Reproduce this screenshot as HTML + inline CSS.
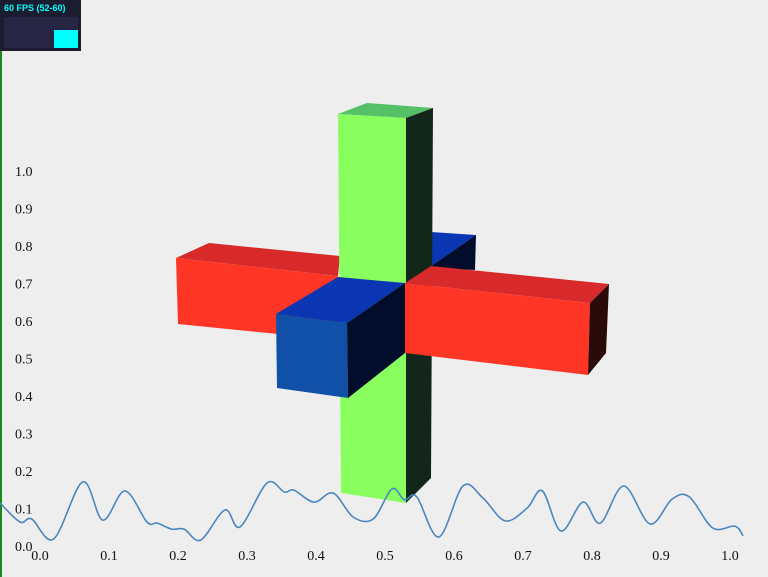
<!DOCTYPE html>
<html><head><meta charset="utf-8"><style>
body{margin:0;width:768px;height:577px;overflow:hidden;background:#eeeeee;font-family:"Liberation Serif",serif}
svg{position:absolute;left:0;top:0}
</style></head><body>
<svg width="768" height="577">
<rect x="0" y="0" width="2" height="577" fill="#1a8a1a"/>
<g id="ylab" font-size="14" fill="#111"></g>
<g id="xlab" font-size="14" fill="#111" text-anchor="middle"></g>
<g>
<polygon points="176,258 209,243 340,256 338,276" fill="#d8292b"/>
<polygon points="176,258 338,276 338,340 178,324" fill="#ff3526"/>
<polygon points="431,232 476,235 431,266" fill="#0a36b4"/>
<polygon points="431,266 476,235 475,270 431,268" fill="#020d2c"/>
<polygon points="338,114 367,103 433,108 406,118" fill="#55c066"/>
<polygon points="338,114 406,118 406,503 341,493" fill="#88ff5e"/>
<polygon points="406,118 433,108 431,478 406,503" fill="#13261a"/>
<polygon points="405,283 431,266 609,284 590,303" fill="#d8292b"/>
<polygon points="405,283 590,303 588,375 405,353" fill="#ff3526"/>
<polygon points="590,303 609,284 606,353 588,375" fill="#2a0b09"/>
<polygon points="276,314 338,277 405,283 347,323" fill="#0a36b4"/>
<polygon points="276,314 347,323 348,398 277,388" fill="#1150a8"/>
<polygon points="347,323 405,283 405,353 348,398" fill="#020d2c"/>
</g>
<path id="wave" fill="none" stroke="#4a86c0" stroke-width="1.6"/>
<g>
<rect x="0" y="0" width="81" height="51" fill="#1c1c30"/>
<rect x="4" y="17" width="74" height="31" fill="#262644"/>
<rect x="54" y="30" width="24" height="18" fill="#0ff"/>
<text x="4" y="11" font-family="Liberation Sans,sans-serif" font-weight="bold" font-size="9" fill="#0ff">60 FPS (52-60)</text>
</g>
</svg>
<script>
const yTicks=["0.0","0.1","0.2","0.3","0.4","0.5","0.6","0.7","0.8","0.9","1.0"];
const xTicks=["0.0","0.1","0.2","0.3","0.4","0.5","0.6","0.7","0.8","0.9","1.0"];
const waveX=[-0.058,-0.029,-0.012,0.020,0.062,0.091,0.123,0.155,0.170,0.191,0.209,0.233,0.268,0.290,0.329,0.354,0.368,0.397,0.425,0.454,0.483,0.510,0.528,0.546,0.578,0.613,0.642,0.674,0.706,0.728,0.755,0.787,0.812,0.846,0.884,0.916,0.941,0.975,1.007,1.019];
const waveY=[0.115,0.064,0.072,0.019,0.171,0.069,0.147,0.064,0.061,0.045,0.045,0.016,0.096,0.051,0.168,0.144,0.149,0.117,0.141,0.077,0.072,0.152,0.123,0.131,0.024,0.160,0.128,0.067,0.101,0.147,0.040,0.117,0.061,0.160,0.059,0.125,0.131,0.048,0.053,0.027];
const sx=v=>40+v*690, sy=v=>546-v*375;
const NS="http://www.w3.org/2000/svg";
const yl=document.getElementById('ylab'), xl=document.getElementById('xlab');
yTicks.forEach((t,i)=>{const e=document.createElementNS(NS,'text');


e.setAttribute('x',15);e.setAttribute('y',sy(i/10)+5);e.textContent=t;yl.appendChild(e);});
xTicks.forEach((t,i)=>{const e=document.createElementNS(NS,'text');


e.setAttribute('x',sx(i/10));e.setAttribute('y',560);e.textContent=t;xl.appendChild(e);});
const P=waveX.map((x,i)=>[sx(x),sy(waveY[i])]);
let d=`M${P[0][0]},${P[0][1]}`;
for(let i=0;i<P.length-1;i++){const p0=P[Math.max(0,i-1)],p1=P[i],p2=P[i+1],p3=P[Math.min(P.length-1,i+2)];
d+=` C${p1[0]+(p2[0]-p0[0])/6},${p1[1]+(p2[1]-p0[1])/6} ${p2[0]-(p3[0]-p1[0])/6},${p2[1]-(p3[1]-p1[1])/6} ${p2[0]},${p2[1]}`;}
document.getElementById('wave').setAttribute('d',d);
</script>
</body></html>
